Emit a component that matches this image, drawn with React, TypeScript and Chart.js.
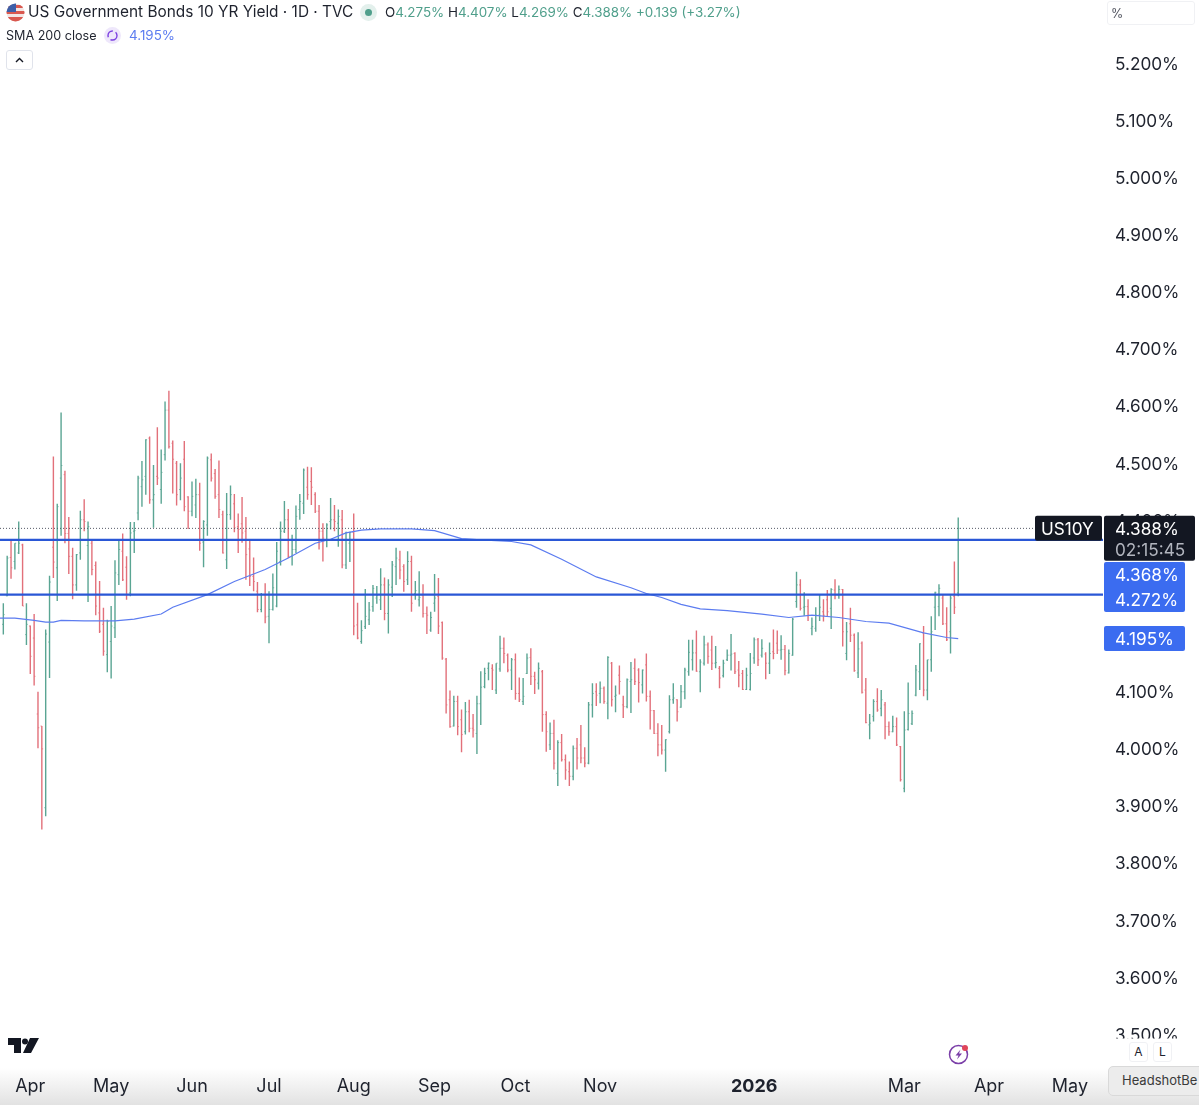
import React, { useEffect, useRef } from "react";
import { Chart, registerables } from "chart.js";

Chart.register(...registerables);

const highs = [
  4.257,4.340,4.369,4.362,4.400,4.361,4.257,4.218,4.238,4.102,
  4.042,4.211,4.305,4.514,4.431,4.591,4.489,4.408,4.354,4.343,
  4.419,4.439,4.400,4.369,4.330,4.296,4.249,4.228,4.252,4.332,
  4.369,4.379,4.339,4.399,4.399,4.480,4.506,4.544,4.549,4.499,
  4.565,4.526,4.610,4.629,4.542,4.506,4.502,4.541,4.444,4.470,
  4.475,4.468,4.402,4.514,4.519,4.492,4.507,4.419,4.450,4.463,
  4.448,4.414,4.443,4.408,4.369,4.337,4.294,4.275,4.292,4.278,
  4.309,4.364,4.400,4.436,4.422,4.377,4.428,4.448,4.493,4.496,
  4.495,4.451,4.429,4.397,4.397,4.441,4.429,4.421,4.420,4.382,
  4.382,4.414,4.258,4.227,4.282,4.259,4.289,4.287,4.318,4.302,
  4.299,4.331,4.354,4.349,4.325,4.348,4.340,4.296,4.313,4.290,
  4.251,4.242,4.308,4.301,4.225,4.161,4.104,4.095,4.095,4.071,
  4.084,4.088,4.063,4.095,4.138,4.144,4.153,4.150,4.152,4.200,
  4.197,4.169,4.161,4.169,4.127,4.126,4.169,4.178,4.137,4.153,
  4.140,4.068,4.048,4.053,4.017,4.028,3.992,3.980,4.008,4.021,
  4.044,4.005,4.084,4.117,4.117,4.120,4.111,4.164,4.154,4.113,
  4.148,4.095,4.125,4.154,4.160,4.143,4.141,4.169,4.104,4.070,
  4.047,4.044,4.019,4.096,4.117,4.089,4.114,4.144,4.193,4.193,
  4.209,4.159,4.200,4.188,4.200,4.182,4.147,4.158,4.176,4.203,
  4.171,4.156,4.140,4.144,4.170,4.197,4.196,4.194,4.171,4.188,
  4.211,4.209,4.201,4.184,4.176,4.231,4.312,4.299,4.276,4.264,
  4.232,4.250,4.273,4.264,4.280,4.283,4.299,4.288,4.282,4.224,
  4.249,4.204,4.206,4.190,4.126,4.063,4.089,4.108,4.105,4.084,
  4.050,4.060,4.057,4.007,4.068,4.118,4.069,4.149,4.187,4.217,
  4.158,4.234,4.277,4.290,4.273,4.250,4.271,4.330,4.407,
];

const lows = [
  4.202,4.269,4.300,4.316,4.343,4.252,4.184,4.133,4.113,4.003,
  3.861,3.884,4.126,4.301,4.261,4.375,4.362,4.308,4.264,4.279,
  4.333,4.383,4.259,4.306,4.236,4.205,4.165,4.136,4.125,4.196,
  4.289,4.296,4.263,4.269,4.345,4.402,4.426,4.447,4.431,4.389,
  4.464,4.431,4.507,4.528,4.449,4.428,4.437,4.418,4.387,4.409,
  4.406,4.349,4.320,4.375,4.470,4.440,4.406,4.344,4.317,4.403,
  4.381,4.345,4.363,4.298,4.287,4.278,4.241,4.241,4.222,4.187,
  4.244,4.250,4.323,4.380,4.336,4.323,4.345,4.403,4.413,4.438,
  4.429,4.415,4.351,4.330,4.355,4.386,4.383,4.356,4.318,4.317,
  4.329,4.201,4.194,4.186,4.212,4.219,4.242,4.256,4.245,4.227,
  4.204,4.268,4.289,4.299,4.277,4.289,4.242,4.263,4.251,4.232,
  4.203,4.207,4.242,4.203,4.158,4.064,4.039,4.041,4.026,3.996,
  4.027,4.031,4.022,3.993,4.044,4.108,4.122,4.105,4.098,4.137,
  4.152,4.136,4.105,4.088,4.084,4.079,4.133,4.114,4.098,4.106,
  4.032,3.997,4.000,3.966,3.937,3.980,3.948,3.937,3.947,3.966,
  3.977,3.970,3.975,4.057,4.077,4.082,4.081,4.054,4.076,4.066,
  4.097,4.056,4.073,4.065,4.114,4.083,4.099,4.085,4.036,4.028,
  3.989,3.992,3.962,4.029,4.081,4.050,4.074,4.089,4.130,4.139,
  4.137,4.101,4.148,4.151,4.140,4.143,4.108,4.127,4.156,4.139,
  4.133,4.110,4.105,4.105,4.104,4.151,4.147,4.162,4.124,4.133,
  4.159,4.168,4.158,4.131,4.134,4.165,4.249,4.244,4.235,4.226,
  4.201,4.207,4.226,4.225,4.234,4.212,4.264,4.265,4.181,4.157,
  4.189,4.137,4.126,4.099,4.047,4.019,4.050,4.067,4.059,4.019,
  4.025,4.031,4.007,3.945,3.926,4.034,4.044,4.094,4.105,4.094,
  4.087,4.137,4.210,4.234,4.219,4.191,4.169,4.238,4.269,
];

const opens = [
  4.220,4.270,4.337,4.330,4.345,4.359,4.202,4.217,4.196,4.063,
  4.042,3.899,4.189,4.355,4.319,4.476,4.482,4.379,4.339,4.289,
  4.345,4.403,4.358,4.362,4.323,4.240,4.220,4.167,4.190,4.214,
  4.307,4.348,4.320,4.275,4.383,4.415,4.461,4.479,4.546,4.438,
  4.479,4.456,4.517,4.595,4.537,4.502,4.456,4.509,4.443,4.418,
  4.429,4.447,4.364,4.394,4.508,4.484,4.447,4.412,4.333,4.412,
  4.431,4.391,4.396,4.383,4.352,4.304,4.278,4.246,4.272,4.234,
  4.246,4.252,4.330,4.383,4.403,4.339,4.351,4.421,4.432,4.460,
  4.470,4.447,4.418,4.383,4.368,4.400,4.403,4.397,4.403,4.324,
  4.362,4.381,4.219,4.190,4.216,4.228,4.251,4.266,4.263,4.289,
  4.239,4.285,4.321,4.333,4.321,4.298,4.330,4.274,4.263,4.271,
  4.239,4.210,4.257,4.269,4.223,4.159,4.088,4.042,4.085,4.053,
  4.032,4.067,4.038,4.029,4.081,4.111,4.143,4.143,4.105,4.142,
  4.178,4.166,4.140,4.158,4.099,4.085,4.134,4.162,4.129,4.117,
  4.137,4.062,4.009,4.029,3.959,4.013,3.983,3.962,3.954,4.003,
  4.009,3.986,3.977,4.079,4.102,4.099,4.108,4.082,4.152,4.094,
  4.131,4.079,4.076,4.120,4.143,4.140,4.114,4.149,4.094,4.069,
  4.029,4.009,4.000,4.032,4.088,4.088,4.075,4.102,4.137,4.158,
  4.170,4.137,4.152,4.184,4.175,4.152,4.143,4.130,4.158,4.166,
  4.169,4.140,4.134,4.106,4.106,4.161,4.193,4.166,4.168,4.152,
  4.172,4.187,4.175,4.176,4.135,4.166,4.260,4.289,4.250,4.251,
  4.213,4.213,4.236,4.242,4.263,4.248,4.280,4.271,4.281,4.169,
  4.221,4.201,4.135,4.187,4.105,4.044,4.059,4.085,4.073,4.079,
  4.041,4.032,4.041,4.006,3.933,4.036,4.046,4.096,4.137,4.205,
  4.105,4.158,4.250,4.251,4.266,4.221,4.207,4.269,4.275,
];

const closes = [
  4.237,4.336,4.319,4.362,4.362,4.252,4.220,4.164,4.129,4.039,
  4.002,4.203,4.294,4.329,4.426,4.498,4.379,4.339,4.289,4.342,
  4.403,4.400,4.391,4.316,4.252,4.208,4.173,4.225,4.217,4.310,
  4.351,4.298,4.272,4.380,4.384,4.476,4.473,4.543,4.438,4.447,
  4.476,4.486,4.595,4.531,4.509,4.447,4.476,4.426,4.418,4.444,
  4.447,4.362,4.400,4.511,4.476,4.444,4.421,4.345,4.412,4.447,
  4.389,4.386,4.380,4.342,4.304,4.295,4.246,4.272,4.233,4.246,
  4.284,4.348,4.383,4.403,4.339,4.351,4.409,4.435,4.490,4.447,
  4.460,4.418,4.383,4.371,4.394,4.403,4.400,4.409,4.324,4.381,
  4.381,4.217,4.196,4.209,4.234,4.245,4.283,4.271,4.289,4.239,
  4.289,4.324,4.336,4.315,4.295,4.330,4.257,4.279,4.267,4.239,
  4.236,4.232,4.266,4.217,4.161,4.079,4.041,4.085,4.041,4.027,
  4.067,4.038,4.035,4.081,4.110,4.134,4.152,4.140,4.152,4.178,
  4.169,4.140,4.158,4.099,4.088,4.094,4.161,4.129,4.123,4.143,
  4.062,4.032,4.029,3.977,4.013,3.983,3.965,3.954,4.003,3.986,
  3.986,3.977,4.079,4.099,4.096,4.108,4.085,4.162,4.088,4.096,
  4.120,4.076,4.123,4.123,4.120,4.118,4.140,4.094,4.069,4.029,
  4.009,4.000,4.018,4.088,4.091,4.067,4.102,4.140,4.171,4.170,
  4.138,4.154,4.184,4.164,4.152,4.153,4.126,4.152,4.166,4.168,
  4.137,4.131,4.106,4.131,4.134,4.193,4.158,4.178,4.152,4.169,
  4.169,4.175,4.176,4.139,4.169,4.229,4.289,4.248,4.251,4.236,
  4.216,4.236,4.250,4.236,4.242,4.281,4.271,4.281,4.207,4.207,
  4.201,4.139,4.177,4.101,4.048,4.047,4.085,4.070,4.088,4.041,
  4.032,4.041,4.009,3.948,4.035,4.064,4.064,4.140,4.186,4.105,
  4.158,4.207,4.276,4.283,4.221,4.193,4.266,4.250,4.388,
];

const smaIndex = [
  -1,3,8,11,13,15,21,29,34,41,44,53,60,68,74,81,85,89,93,98,106,112,119,124,132,137,145,154,
  163,167,171,176,181,188,197,204,210,217,224,230,239,245,248,
];
const smaValues = [
  4.231,4.231,4.227,4.224,4.224,4.227,4.226,4.226,4.229,4.238,4.250,4.272,4.295,4.316,4.336,4.362,
  4.369,4.380,4.385,4.387,4.387,4.384,4.370,4.368,4.365,4.359,4.334,4.303,4.284,4.274,4.267,4.255,
  4.247,4.244,4.238,4.232,4.236,4.232,4.225,4.222,4.205,4.197,4.195,
];

const lastPrice = 4.388;
const upperLevel = 4.368;
const lowerLevel = 4.272;
const smaLast = 4.195;

const yTicks = [5.2,5.1,5.0,4.9,4.8,4.7,4.6,4.5,4.4,4.3,4.2,4.1,4.0,3.9,3.8,3.7,3.6,3.5];
const xTickIndex = [7,28,49,69,91,112,133,155,195,234,256,277];
const xTickLabels = ["Apr","May","Jun","Jul","Aug","Sep","Oct","Nov","2026","Mar","Apr","May"];

const GREEN = "#5aa593";
const RED = "#e2707a";
const FONT = "Inter, 'Noto Sans', sans-serif";
const X_MIN = -0.865;
const X_MAX = 285.6;

const indices = highs.map((_, i) => i);
const barColors = indices.map((i) => (closes[i] >= opens[i] ? GREEN : RED));

const noPad = (s: any) => {
  s.paddingLeft = 0;
  s.paddingRight = 0;
  s.paddingTop = 0;
  s.paddingBottom = 0;
};

const tagsPlugin = {
  id: "tags",
  afterDraw(chart: any) {
    const { ctx } = chart;
    const area = chart.chartArea;
    ctx.save();
    ctx.fillStyle = "#ffffff";
    ctx.fillRect(area.right, area.bottom, 96, 24);
    const box = (x: number, y: number, w: number, h: number, c: string) => {
      ctx.fillStyle = c;
      ctx.beginPath();
      ctx.roundRect(x, y, w, h, 2);
      ctx.fill();
    };
    const text = (s: string, x: number, y: number, c: string) => {
      ctx.fillStyle = c;
      ctx.fillText(s, x, y);
    };
    ctx.textBaseline = "middle";
    ctx.textAlign = "left";
    ctx.font = `17.2px ${FONT}`;
    const yLast = chart.scales.y.getPixelForValue(lastPrice);
    box(1035, yLast - 12.5, 67, 25, "#131722");
    text("US10Y", 1041, yLast + 1.5, "#ffffff");
    box(1104, yLast - 12.5, 91, 45, "#131722");
    text(lastPrice.toFixed(3) + "%", 1115, yLast + 1.5, "#ffffff");
    text("02:15:45", 1115, yLast + 22, "#b2b5be");
    box(1104, 562, 81, 50, "#3b6cf0");
    text(upperLevel.toFixed(3) + "%", 1115, 576, "#ffffff");
    text(lowerLevel.toFixed(3) + "%", 1115, 601, "#ffffff");
    const ySma = chart.scales.y.getPixelForValue(smaLast);
    box(1104, ySma - 12.5, 81, 25, "#3b6cf0");
    text(smaLast.toFixed(3) + "%", 1115, ySma + 1.5, "#ffffff");
    ctx.restore();
  },
};

function App() {
  const ref = useRef<HTMLCanvasElement | null>(null);
  useEffect(() => {
    document.body.style.margin = "0";
    const chart = new Chart(ref.current as HTMLCanvasElement, {
      type: "bar",
      plugins: [tagsPlugin],
      data: {
        datasets: [
          {
            type: "line",
            data: [{ x: X_MIN, y: upperLevel }, { x: X_MAX, y: upperLevel }],
            borderColor: "#2a57d6",
            borderWidth: 2.2,
            pointRadius: 0,
            order: 0,
          },
          {
            type: "line",
            data: [{ x: X_MIN, y: lowerLevel }, { x: X_MAX, y: lowerLevel }],
            borderColor: "#2a57d6",
            borderWidth: 2.2,
            pointRadius: 0,
            order: 0,
          },
          {
            type: "line",
            data: smaIndex.map((x, i) => ({ x, y: smaValues[i] })),
            borderColor: "#5c7cf0",
            borderWidth: 1.2,
            pointRadius: 0,
            tension: 0,
            order: 1,
          },
          {
            type: "line",
            data: [{ x: X_MIN, y: lastPrice }, { x: 268, y: lastPrice }],
            borderColor: "#555a66",
            borderWidth: 1,
            borderDash: [1, 2],
            pointRadius: 0,
            order: 2,
          },
          {
            type: "scatter",
            data: indices.map((i) => ({ x: i, y: opens[i] })),
            pointStyle: "dash",
            rotation: 180,
            radius: 1.3,
            borderWidth: 0.8,
            borderColor: barColors,
            backgroundColor: barColors,
            order: 3,
          },
          {
            type: "scatter",
            data: indices.map((i) => ({ x: i, y: closes[i] })),
            pointStyle: "dash",
            rotation: 0,
            radius: 1.3,
            borderWidth: 0.8,
            borderColor: barColors,
            backgroundColor: barColors,
            order: 3,
          },
          {
            type: "bar",
            data: indices.map((i) => ({ x: i, y: [lows[i], highs[i]] })),
            backgroundColor: barColors,
            barThickness: 1.4,
            inflateAmount: 0,
            borderWidth: 0,
            order: 4,
          },
        ],
      } as any,
      options: {
        responsive: false,
        animation: false,
        devicePixelRatio: 1,
        events: [],
        layout: { padding: 0, autoPadding: false },
        plugins: { legend: { display: false }, tooltip: { enabled: false } },
        scales: {
          x: {
            type: "linear",
            min: X_MIN,
            max: X_MAX,
            offset: false,
            grid: { display: false, drawTicks: false },
            border: { display: false },
            afterFit: (s: any) => { s.height = 66.5; noPad(s); },
            afterBuildTicks: (s: any) => { s.ticks = xTickIndex.map((value) => ({ value })); },
            ticks: {
              autoSkip: false,
              maxRotation: 0,
              padding: 37,
              color: "#1e222d",
              font: (c: any) => ({
                family: FONT,
                size: 18,
                weight: c.tick && c.tick.value === 195 ? "700" : "400",
              }),
              callback: (v: any) => xTickLabels[xTickIndex.indexOf(v)],
            },
          },
          y: {
            type: "linear",
            position: "right",
            min: 3.495,
            max: 5.3129,
            grid: { display: false, drawTicks: false },
            border: { display: false },
            afterFit: (s: any) => { s.width = 96; noPad(s); },
            afterBuildTicks: (s: any) => { s.ticks = yTicks.map((value) => ({ value })); },
            ticks: {
              padding: 12,
              color: "#1e222d",
              font: { family: FONT, size: 17.2 },
              callback: (v: any) => Number(v).toFixed(3) + "%",
            },
          },
        },
      } as any,
    });
    return () => chart.destroy();
  }, []);

  const abs = (left: number, top: number, extra: any = {}) => ({
    position: "absolute" as const,
    left,
    top,
    whiteSpace: "nowrap" as const,
    fontFamily: FONT,
    ...extra,
  });
  const g = { color: "#4f9f8b" };
  return (
    <div
      style={{
        position: "absolute",
        left: 0,
        top: 0,
        width: 1199,
        height: 1105,
        overflow: "hidden",
        background: "linear-gradient(to bottom, #ffffff 0, #ffffff 1068px, #e2e2e2 1105px)",
      }}
    >
      <canvas ref={ref} width={1199} height={1105} style={{ position: "absolute", left: 0, top: 0 }} />

      <svg width="19" height="19" viewBox="0 0 19 19" style={{ position: "absolute", left: 6, top: 3 }}>
        <clipPath id="c"><circle cx="9.5" cy="9.5" r="9" /></clipPath>
        <g clipPath="url(#c)">
          <rect width="19" height="19" fill="#f3e6e4" />
          <rect y="2" width="19" height="3" fill="#d9584f" />
          <rect y="8" width="19" height="3" fill="#d9584f" />
          <rect y="14" width="19" height="5" fill="#d9584f" />
          <rect width="10" height="9" fill="#3d5fa8" />
        </g>
      </svg>
      <div style={abs(28, 3, { fontSize: 15.4, lineHeight: "18px", color: "#1e222d" })}>
        US Government Bonds 10 YR Yield · 1D · TVC
      </div>
      <div style={{ position: "absolute", left: 360, top: 4, width: 17, height: 17, borderRadius: 9, background: "#e3f0ec" }} />
      <div style={{ position: "absolute", left: 365, top: 9, width: 7, height: 7, borderRadius: 4, background: "#4f9f8b" }} />
      <div style={abs(385, 3, { fontSize: 13.4, lineHeight: "18px", color: "#1e222d" })}>
        O<span style={g}>4.275%</span> H<span style={g}>4.407%</span> L<span style={g}>4.269%</span> C<span style={g}>4.388%</span> <span style={g}>+0.139 (+3.27%)</span>
      </div>

      <div style={abs(6, 27, { fontSize: 12.6, lineHeight: "17px", color: "#1e222d" })}>SMA 200 close</div>
      <svg width="17" height="17" viewBox="0 0 17 17" style={{ position: "absolute", left: 104, top: 27 }}>
        <circle cx="8.5" cy="8.5" r="8.5" fill="#eee7fb" />
        <circle cx="8.5" cy="8.5" r="4.5" fill="none" stroke="#7b3fe0" strokeWidth="1.4" strokeDasharray="9 3" />
      </svg>
      <div style={abs(129, 27, { fontSize: 13.4, lineHeight: "17px", color: "#5c7cf0" })}>4.195%</div>

      <div style={{ position: "absolute", left: 6, top: 50, width: 27, height: 20, border: "1px solid #e0e3eb", borderRadius: 3, boxSizing: "border-box", background: "#fff" }}>
        <svg width="25" height="18" viewBox="0 0 25 18" style={{ display: "block" }}>
          <path d="M9 11 L12.5 7.5 L16 11" fill="none" stroke="#131722" strokeWidth="1.4" />
        </svg>
      </div>

      <div style={{ position: "absolute", left: 1107, top: 1, width: 88, height: 24, border: "1px solid #f0f1f4", borderRadius: 3, boxSizing: "border-box" }} />
      <div style={abs(1111, 6, { fontSize: 12.5, lineHeight: "15px", color: "#50535e" })}>%</div>

      <svg width="32" height="16" viewBox="0 0 32 16" style={{ position: "absolute", left: 8, top: 1038 }}>
        <path d="M0 0 H13 V15 H6 V7 H0 Z" fill="#131722" />
        <circle cx="17" cy="3.5" r="3" fill="#131722" />
        <path d="M22 0 H31 L23 15 H15 Z" fill="#131722" />
      </svg>
      <svg width="22" height="22" viewBox="0 0 22 22" style={{ position: "absolute", left: 948, top: 1043 }}>
        <circle cx="10.5" cy="11.5" r="9" fill="none" stroke="#7b3fa8" strokeWidth="1.5" />
        <path d="M12.5 6.5 L7.5 12.5 H10.5 L9 16.5 L14 10.5 H11 Z" fill="#7b3fa8" />
        <circle cx="17" cy="5" r="3" fill="#e0455a" />
      </svg>
      {["A", "L"].map((t, i) => (
        <div
          key={t}
          style={abs(1129 + i * 24, 1042, {
            width: 19,
            height: 20,
            border: "1px solid #f0f1f4",
            borderRadius: 3,
            boxSizing: "border-box",
            fontSize: 12,
            lineHeight: "18px",
            textAlign: "center",
            color: "#1e222d",
            background: "#fff",
          })}
        >
          {t}
        </div>
      ))}
      <div
        style={{
          position: "absolute",
          left: 1108,
          top: 1066,
          width: 110,
          height: 30,
          background: "#ececec",
          border: "1px solid #d9d9d9",
          borderRadius: 5,
          boxSizing: "border-box",
          overflow: "hidden",
          fontFamily: FONT,
          fontSize: 13,
          lineHeight: "26px",
          paddingLeft: 13,
          color: "#3a3a3a",
          whiteSpace: "nowrap",
        }}
      >
        HeadshotBe
      </div>
    </div>
  );
}

export default App;
